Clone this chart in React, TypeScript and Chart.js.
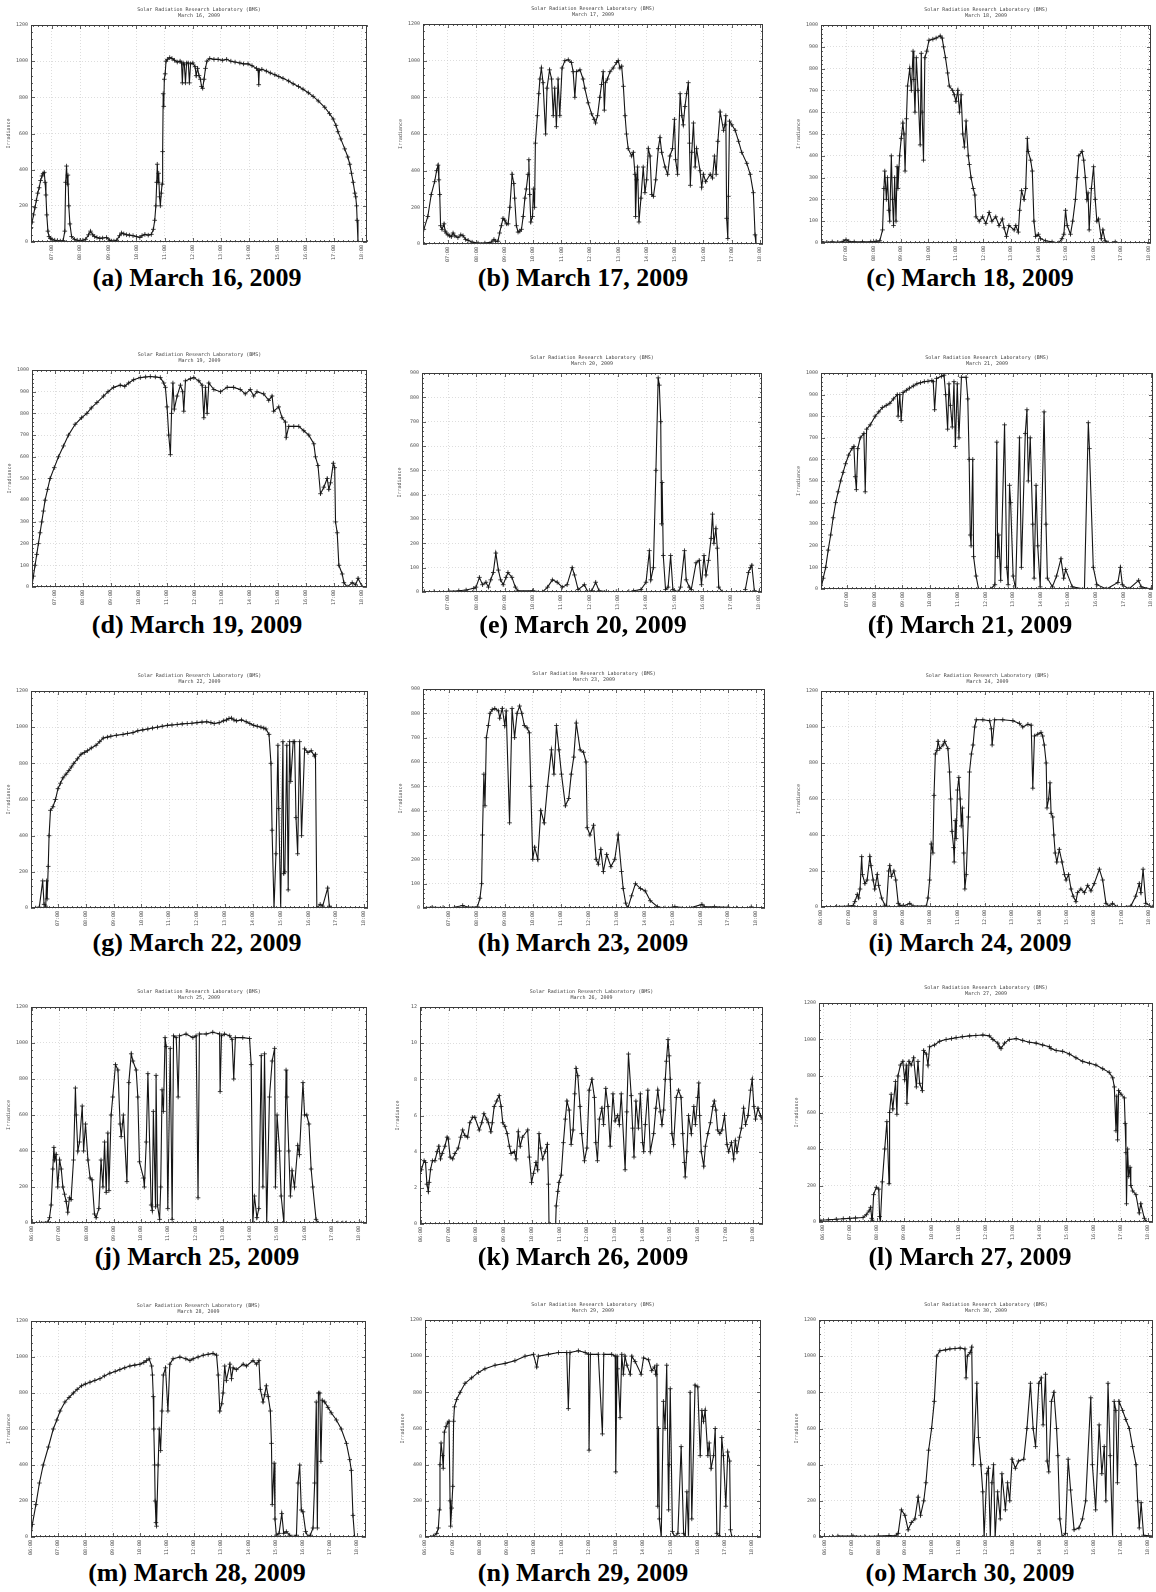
import React, { useEffect, useRef } from 'react';
import { Chart, registerables } from 'chart.js';
Chart.register(...registerables);

type Pt = [number, number | null];

// ---------------- data (hour of day, irradiance) ----------------
const mar16: Pt[] = [[6.26,80],[6.3,110],[6.35,150],[6.4,190],[6.45,230],[6.5,270],[6.55,300],[6.6,340],[6.65,365],[6.69,378],[6.73,385],[6.76,330],[6.79,260],[6.82,150],[6.86,60],[6.9,30],[6.95,20],[7.0,15],[7.1,10],[7.2,8],[7.3,5],[7.4,8],[7.46,60],[7.49,330],[7.52,420],[7.55,320],[7.57,370],[7.6,200],[7.64,100],[7.7,30],[7.8,15],[7.9,10],[8.0,8],[8.1,10],[8.2,15],[8.3,40],[8.37,60],[8.45,40],[8.52,30],[8.6,25],[8.7,20],[8.8,22],[8.94,25],[9.05,10],[9.12,5],[9.2,5],[9.3,10],[9.4,35],[9.47,50],[9.55,45],[9.65,40],[9.75,38],[9.88,35],[10.0,30],[10.12,25],[10.2,35],[10.3,42],[10.42,38],[10.53,42],[10.6,70],[10.65,120],[10.69,200],[10.72,330],[10.74,430],[10.77,330],[10.79,380],[10.82,250],[10.85,200],[10.88,270],[10.91,320],[10.93,500],[10.95,820],[10.97,750],[10.99,900],[11.02,930],[11.05,1000],[11.1,1010],[11.18,1020],[11.26,1015],[11.35,1005],[11.45,995],[11.55,1000],[11.6,990],[11.63,880],[11.66,990],[11.7,980],[11.74,880],[11.78,990],[11.84,990],[11.88,880],[11.92,985],[12.0,990],[12.08,970],[12.12,920],[12.17,960],[12.22,920],[12.27,900],[12.31,860],[12.35,850],[12.4,900],[12.45,960],[12.5,1000],[12.6,1015],[12.75,1010],[12.9,1010],[13.05,1005],[13.2,1010],[13.35,1000],[13.5,995],[13.67,990],[13.8,985],[13.96,985],[14.1,975],[14.26,960],[14.32,950],[14.34,870],[14.36,950],[14.45,955],[14.61,945],[14.75,935],[14.91,925],[15.05,915],[15.2,905],[15.4,890],[15.56,875],[15.75,860],[15.91,845],[16.1,825],[16.27,805],[16.45,780],[16.68,745],[16.85,710],[16.98,680],[17.08,645],[17.15,610],[17.25,570],[17.39,515],[17.5,470],[17.57,430],[17.63,380],[17.69,330],[17.75,270],[17.78,250],[17.81,200],[17.83,120],[17.86,0]];

const mar17: Pt[] = [[6.15,80],[6.29,150],[6.41,270],[6.53,340],[6.6,400],[6.65,430],[6.68,350],[6.71,270],[6.74,100],[6.79,80],[6.86,110],[6.9,70],[6.94,60],[7.0,50],[7.06,45],[7.12,40],[7.18,60],[7.24,45],[7.35,35],[7.45,50],[7.53,45],[7.62,25],[7.71,20],[7.85,10],[8.06,5],[8.3,5],[8.53,10],[8.62,25],[8.68,15],[8.76,15],[8.82,60],[8.88,100],[8.94,140],[9.0,130],[9.06,110],[9.12,110],[9.18,200],[9.26,380],[9.32,330],[9.35,250],[9.41,100],[9.47,65],[9.53,70],[9.59,80],[9.65,150],[9.71,250],[9.76,300],[9.82,380],[9.85,460],[9.88,270],[9.92,120],[9.98,150],[10.01,300],[10.05,200],[10.08,550],[10.15,700],[10.2,820],[10.24,900],[10.29,960],[10.35,880],[10.44,600],[10.49,850],[10.58,950],[10.65,900],[10.71,700],[10.76,850],[10.82,640],[10.88,900],[10.94,700],[11.02,960],[11.12,1000],[11.24,1005],[11.35,990],[11.41,940],[11.47,800],[11.53,940],[11.65,950],[11.76,900],[11.82,850],[11.94,770],[12.06,710],[12.15,680],[12.2,660],[12.27,700],[12.35,800],[12.41,870],[12.47,940],[12.51,730],[12.55,880],[12.62,900],[12.71,940],[12.82,960],[12.94,990],[13.0,1000],[13.06,960],[13.12,970],[13.18,860],[13.24,700],[13.29,600],[13.35,520],[13.47,480],[13.53,500],[13.59,380],[13.61,150],[13.65,350],[13.68,420],[13.73,120],[13.8,250],[13.88,420],[13.94,280],[14.0,350],[14.06,520],[14.12,480],[14.18,270],[14.24,260],[14.32,350],[14.41,520],[14.47,580],[14.53,500],[14.65,420],[14.74,380],[14.82,480],[14.91,520],[14.98,680],[15.02,460],[15.09,380],[15.18,820],[15.24,700],[15.29,650],[15.35,750],[15.41,820],[15.47,880],[15.51,550],[15.54,320],[15.59,500],[15.65,660],[15.71,420],[15.76,520],[15.88,400],[15.94,310],[16.0,380],[16.08,340],[16.24,380],[16.32,360],[16.39,480],[16.45,380],[16.51,560],[16.59,720],[16.71,620],[16.76,650],[16.79,700],[16.82,140],[16.86,30],[16.88,260],[16.92,670],[17.0,650],[17.12,620],[17.24,560],[17.35,500],[17.53,440],[17.65,380],[17.76,280],[17.82,50],[17.85,0]];

const mar18: Pt[] = [[6.12,5],[6.3,3],[6.5,5],[6.7,3],[6.9,8],[7.0,15],[7.1,8],[7.3,5],[7.6,5],[7.9,5],[8.1,8],[8.23,10],[8.33,60],[8.38,250],[8.41,330],[8.47,200],[8.51,300],[8.56,150],[8.59,100],[8.65,400],[8.69,200],[8.73,80],[8.77,300],[8.82,100],[8.86,350],[8.89,250],[8.95,400],[9.01,480],[9.07,550],[9.11,500],[9.15,330],[9.2,570],[9.24,720],[9.32,800],[9.38,700],[9.44,880],[9.47,750],[9.51,600],[9.56,850],[9.62,700],[9.7,450],[9.74,870],[9.77,600],[9.82,380],[9.87,850],[9.94,880],[10.02,930],[10.16,935],[10.28,940],[10.43,950],[10.5,940],[10.55,900],[10.62,850],[10.7,780],[10.76,720],[10.88,700],[10.94,680],[11.0,650],[11.07,700],[11.13,600],[11.19,680],[11.25,500],[11.31,440],[11.37,560],[11.45,400],[11.49,360],[11.55,300],[11.63,250],[11.69,220],[11.73,120],[11.85,100],[11.97,120],[12.09,90],[12.21,140],[12.31,100],[12.45,120],[12.57,80],[12.69,110],[12.75,70],[12.84,30],[12.93,80],[13.12,60],[13.18,80],[13.27,50],[13.32,150],[13.39,240],[13.48,200],[13.54,250],[13.6,480],[13.63,420],[13.72,380],[13.78,330],[13.84,100],[13.9,30],[14.0,40],[14.08,20],[14.26,10],[14.5,5],[14.74,0],[14.86,20],[14.93,40],[14.99,150],[15.05,80],[15.17,40],[15.25,100],[15.35,200],[15.41,300],[15.47,400],[15.59,420],[15.65,380],[15.71,300],[15.77,200],[15.81,230],[15.85,60],[15.93,250],[16.01,350],[16.07,200],[16.13,100],[16.19,110],[16.29,20],[16.35,60],[16.43,10],[16.55,0],[16.8,5]];

const mar19: Pt[] = [[6.16,0],[6.22,50],[6.28,100],[6.34,150],[6.4,200],[6.46,250],[6.52,300],[6.58,350],[6.64,400],[6.73,450],[6.82,500],[6.97,550],[7.12,600],[7.3,650],[7.48,700],[7.72,750],[7.95,780],[8.14,800],[8.3,825],[8.5,850],[8.74,880],[8.9,900],[9.1,920],[9.34,930],[9.5,925],[9.64,940],[9.82,955],[10.06,965],[10.25,968],[10.42,970],[10.6,968],[10.78,965],[10.9,940],[10.96,920],[11.02,830],[11.08,700],[11.14,610],[11.18,800],[11.23,940],[11.28,820],[11.38,880],[11.5,930],[11.58,900],[11.62,810],[11.68,950],[11.86,960],[11.98,965],[12.16,950],[12.28,930],[12.34,780],[12.4,920],[12.46,800],[12.52,940],[12.7,910],[12.94,900],[13.18,920],[13.41,920],[13.65,910],[13.83,890],[14.01,910],[14.13,880],[14.25,900],[14.49,890],[14.67,860],[14.79,880],[14.85,810],[15.03,830],[15.15,780],[15.27,760],[15.3,690],[15.39,740],[15.57,740],[15.75,740],[15.93,720],[16.11,700],[16.29,660],[16.35,600],[16.44,560],[16.53,430],[16.65,460],[16.77,500],[16.83,450],[16.89,480],[16.99,570],[17.04,550],[17.07,300],[17.13,250],[17.19,100],[17.31,60],[17.37,20],[17.49,0],[17.67,20],[17.79,10],[17.88,40],[18.03,0]];

const mar20: Pt[] = [[6.16,2],[6.51,2],[7.03,3],[7.38,5],[7.64,8],[7.91,15],[7.99,20],[8.11,60],[8.22,30],[8.34,40],[8.43,20],[8.51,50],[8.6,80],[8.69,160],[8.78,90],[8.86,50],[8.95,30],[9.05,60],[9.12,80],[9.26,60],[9.38,20],[9.47,5],[9.99,5],[10.34,0],[10.52,20],[10.69,50],[10.86,40],[11.04,20],[11.21,30],[11.39,100],[11.47,70],[11.6,10],[11.82,30],[11.94,0],[12.08,5],[12.22,40],[12.34,5],[12.6,2],[12.95,2],[13.39,2],[13.47,null],[13.56,5],[13.82,10],[14.0,40],[14.12,170],[14.17,50],[14.26,100],[14.35,500],[14.43,880],[14.47,850],[14.52,700],[14.55,280],[14.57,450],[14.61,150],[14.69,10],[14.78,20],[14.87,150],[14.95,10],[15.13,0],[15.22,20],[15.36,170],[15.42,50],[15.53,20],[15.6,10],[15.77,120],[15.88,130],[15.96,30],[16.05,150],[16.12,70],[16.21,130],[16.3,220],[16.35,320],[16.4,200],[16.47,260],[16.52,180],[16.57,20],[16.7,0],[16.75,null],[17.51,10],[17.62,80],[17.69,100],[17.74,110],[17.83,5],[18.0,0]];

const mar21: Pt[] = [[6.06,0],[6.14,50],[6.23,100],[6.32,180],[6.41,250],[6.5,330],[6.59,400],[6.68,450],[6.77,500],[6.86,540],[6.95,580],[7.06,620],[7.18,650],[7.25,660],[7.3,520],[7.34,460],[7.39,650],[7.48,700],[7.61,720],[7.66,450],[7.71,740],[7.84,760],[8.02,800],[8.15,820],[8.28,840],[8.42,850],[8.55,860],[8.68,880],[8.82,900],[8.85,800],[8.91,900],[8.96,780],[9.03,910],[9.15,920],[9.26,930],[9.4,940],[9.53,950],[9.66,955],[9.8,960],[9.93,962],[10.07,965],[10.12,960],[10.17,830],[10.24,975],[10.42,985],[10.51,990],[10.57,900],[10.64,740],[10.69,950],[10.74,850],[10.81,750],[10.87,960],[10.92,660],[10.99,950],[11.05,700],[11.14,980],[11.31,980],[11.37,880],[11.42,600],[11.46,250],[11.49,200],[11.55,600],[11.58,150],[11.67,60],[11.76,0],[12.2,0],[12.35,20],[12.42,680],[12.45,150],[12.49,250],[12.56,40],[12.7,760],[12.78,100],[12.83,20],[12.88,480],[12.92,400],[13.01,60],[13.1,0],[13.24,700],[13.31,100],[13.45,720],[13.51,830],[13.56,500],[13.63,700],[13.72,300],[13.77,50],[13.84,480],[13.9,200],[13.99,10],[14.13,820],[14.2,300],[14.25,50],[14.43,10],[14.58,60],[14.74,140],[14.84,50],[14.91,90],[15.15,10],[15.59,0],[15.73,770],[15.77,650],[15.91,100],[16.04,20],[16.39,0],[16.8,30],[16.89,100],[16.96,20],[17.2,0],[17.55,40],[17.64,10],[18.0,0]];

const mar22: Pt[] = [[6.01,0],[6.2,0],[6.33,5],[6.45,150],[6.5,20],[6.56,10],[6.59,150],[6.61,50],[6.65,230],[6.68,400],[6.73,540],[6.82,560],[6.91,600],[7.0,660],[7.09,690],[7.18,720],[7.29,740],[7.39,760],[7.48,780],[7.57,800],[7.7,825],[7.83,850],[7.95,860],[8.06,870],[8.2,885],[8.37,900],[8.5,920],[8.63,940],[8.78,945],[8.9,950],[9.1,955],[9.34,960],[9.5,965],[9.7,970],[9.87,980],[10.05,985],[10.23,990],[10.4,995],[10.58,1000],[10.75,1005],[10.94,1010],[11.1,1012],[11.29,1015],[11.47,1018],[11.65,1020],[11.82,1022],[12.0,1025],[12.18,1028],[12.35,1030],[12.5,1025],[12.62,1020],[12.8,1025],[12.95,1035],[13.06,1040],[13.15,1048],[13.24,1050],[13.33,1040],[13.42,1035],[13.6,1040],[13.77,1030],[13.9,1020],[14.04,1010],[14.17,1005],[14.3,1000],[14.4,995],[14.48,990],[14.59,960],[14.66,800],[14.7,430],[14.77,0],[14.84,300],[14.91,900],[14.94,550],[15.01,0],[15.09,920],[15.12,190],[15.16,200],[15.23,900],[15.28,100],[15.33,920],[15.37,700],[15.46,920],[15.51,920],[15.56,500],[15.62,300],[15.69,920],[15.76,400],[15.87,880],[15.99,860],[16.11,870],[16.22,840],[16.26,850],[16.31,0],[16.43,20],[16.52,10],[16.7,110],[16.76,10],[16.82,0]];

const mar23: Pt[] = [[6.08,2],[6.4,3],[6.79,2],[7.2,3],[7.49,10],[7.7,3],[8.02,5],[8.11,40],[8.17,100],[8.2,300],[8.25,550],[8.29,420],[8.34,700],[8.41,750],[8.47,800],[8.55,815],[8.64,820],[8.77,810],[8.82,780],[8.91,820],[9.0,750],[9.05,810],[9.17,350],[9.26,820],[9.35,700],[9.44,800],[9.53,830],[9.61,800],[9.7,750],[9.8,740],[9.88,720],[9.93,500],[10.0,200],[10.07,250],[10.18,200],[10.29,400],[10.41,350],[10.53,500],[10.67,650],[10.76,550],[10.85,750],[10.94,650],[11.03,550],[11.17,420],[11.29,450],[11.38,550],[11.47,620],[11.56,760],[11.7,650],[11.82,640],[11.91,600],[11.95,330],[12.05,300],[12.18,340],[12.27,200],[12.35,180],[12.44,240],[12.53,150],[12.65,220],[12.8,170],[12.94,200],[13.06,300],[13.18,150],[13.24,80],[13.33,20],[13.41,0],[13.54,50],[13.68,100],[13.86,80],[14.03,70],[14.21,30],[14.47,5],[14.74,0],[15.09,5],[15.62,0],[16.06,15],[16.15,5],[16.51,5],[17.0,3],[17.3,0],[17.4,null],[17.83,5]];

const mar24: Pt[] = [[6.0,0],[6.57,3],[7.0,5],[7.18,8],[7.24,30],[7.33,70],[7.38,50],[7.43,100],[7.49,280],[7.52,180],[7.61,130],[7.69,150],[7.79,280],[7.83,230],[7.91,150],[7.97,100],[8.06,180],[8.11,120],[8.22,50],[8.34,10],[8.4,5],[8.48,200],[8.52,230],[8.58,170],[8.67,200],[8.74,150],[8.83,20],[8.89,10],[9.01,5],[9.25,20],[9.37,5],[9.86,5],[9.92,50],[9.98,150],[10.04,350],[10.1,300],[10.14,620],[10.19,850],[10.25,870],[10.29,920],[10.35,880],[10.47,900],[10.53,920],[10.65,880],[10.71,750],[10.75,600],[10.8,420],[10.86,330],[10.88,250],[10.92,480],[10.95,380],[11.0,650],[11.05,720],[11.1,600],[11.14,450],[11.18,550],[11.23,300],[11.27,100],[11.32,180],[11.4,500],[11.44,750],[11.51,850],[11.57,900],[11.63,1000],[11.69,1040],[11.93,1040],[12.18,1035],[12.24,990],[12.27,900],[12.36,1040],[12.66,1040],[13.03,1035],[13.27,1020],[13.39,1000],[13.58,1015],[13.7,1010],[13.76,660],[13.82,950],[13.94,960],[14.06,970],[14.12,950],[14.18,900],[14.25,800],[14.28,550],[14.34,600],[14.39,690],[14.43,520],[14.49,500],[14.53,400],[14.58,300],[14.64,250],[14.73,320],[14.83,250],[14.92,180],[14.98,150],[15.07,180],[15.16,100],[15.24,60],[15.34,30],[15.4,80],[15.52,100],[15.65,80],[15.77,120],[15.89,90],[16.01,130],[16.2,210],[16.32,150],[16.44,20],[16.56,5],[16.68,20],[16.86,0],[17.35,5],[17.53,60],[17.66,130],[17.72,80],[17.8,210],[17.9,20],[18.14,0]];

const mar25: Pt[] = [[5.95,0],[6.28,2],[6.59,5],[6.65,30],[6.71,100],[6.77,300],[6.81,420],[6.84,350],[6.89,380],[6.95,200],[7.02,350],[7.08,300],[7.14,200],[7.2,160],[7.26,120],[7.32,60],[7.38,140],[7.44,130],[7.53,350],[7.6,750],[7.63,600],[7.69,400],[7.75,450],[7.85,650],[7.9,400],[7.97,550],[8.06,350],[8.14,250],[8.21,240],[8.3,50],[8.36,30],[8.46,80],[8.54,350],[8.61,200],[8.67,450],[8.73,170],[8.79,500],[8.83,180],[8.91,600],[8.97,700],[9.07,880],[9.16,850],[9.24,550],[9.28,480],[9.36,600],[9.49,230],[9.56,780],[9.65,940],[9.71,900],[9.83,850],[9.89,700],[9.95,340],[10.1,250],[10.13,200],[10.2,450],[10.26,830],[10.38,100],[10.42,70],[10.46,620],[10.54,90],[10.56,820],[10.61,100],[10.69,20],[10.73,200],[10.78,740],[10.83,620],[10.89,1030],[10.93,980],[10.99,80],[11.08,970],[11.15,20],[11.2,1040],[11.3,1030],[11.37,700],[11.42,1040],[11.66,1050],[11.91,1030],[12.03,1040],[12.1,140],[12.15,1050],[12.4,1050],[12.64,1060],[12.89,1050],[12.91,730],[12.96,1040],[13.07,1050],[13.26,1040],[13.35,1020],[13.41,800],[13.47,1030],[13.74,1030],[13.99,1025],[14.05,880],[14.11,0],[14.17,150],[14.26,30],[14.33,80],[14.42,930],[14.48,200],[14.54,940],[14.62,0],[14.72,700],[14.82,900],[14.91,970],[14.94,200],[15.0,600],[15.09,400],[15.15,150],[15.25,0],[15.33,850],[15.36,700],[15.43,400],[15.49,150],[15.55,290],[15.64,200],[15.76,430],[15.82,380],[15.95,780],[16.01,600],[16.09,600],[16.17,550],[16.25,300],[16.31,200],[16.43,20],[16.5,0],[16.55,null],[17.23,0],[17.41,0],[17.45,null],[17.54,0],[18.09,0]];

const mar26: Pt[] = [[5.96,2.8],[6.02,3.0],[6.12,3.5],[6.17,3.4],[6.22,2.2],[6.27,1.8],[6.3,2.3],[6.35,3.0],[6.42,3.5],[6.51,3.5],[6.59,4.0],[6.65,4.3],[6.71,3.6],[6.77,3.9],[6.87,4.3],[6.95,4.8],[6.99,4.7],[7.06,3.7],[7.15,3.6],[7.23,3.9],[7.35,4.2],[7.44,4.8],[7.51,5.2],[7.59,4.9],[7.69,4.8],[7.77,5.6],[7.87,5.9],[7.95,5.9],[8.11,5.2],[8.2,5.6],[8.28,6.1],[8.38,5.8],[8.44,5.6],[8.53,5.1],[8.58,5.6],[8.65,6.5],[8.74,6.8],[8.83,7.1],[8.9,6.5],[8.96,5.6],[9.04,5.4],[9.12,5.0],[9.2,4.3],[9.26,3.9],[9.38,4.0],[9.44,3.6],[9.52,5.1],[9.59,4.3],[9.67,4.8],[9.86,5.2],[9.92,3.7],[10.0,2.3],[10.07,2.8],[10.16,3.4],[10.22,3.0],[10.27,5.0],[10.33,4.2],[10.4,3.6],[10.49,4.0],[10.57,4.4],[10.61,2.2],[10.63,0],[10.75,null],[10.87,0],[10.89,1.0],[10.95,1.8],[10.99,2.3],[11.07,2.7],[11.15,4.5],[11.22,5.8],[11.28,6.8],[11.36,6.3],[11.43,4.4],[11.5,5.2],[11.56,7.2],[11.61,8.6],[11.67,8.2],[11.75,6.5],[11.81,5.0],[11.91,3.5],[12.0,4.2],[12.08,7.4],[12.18,8.0],[12.27,7.0],[12.32,4.5],[12.38,3.5],[12.45,5.8],[12.54,6.4],[12.6,5.5],[12.68,7.5],[12.76,6.5],[12.84,4.3],[12.94,7.2],[13.02,5.7],[13.11,6.0],[13.17,5.5],[13.24,7.2],[13.38,3.0],[13.44,6.2],[13.5,9.4],[13.6,7.1],[13.65,5.3],[13.7,3.7],[13.77,6.8],[13.86,5.3],[13.93,7.2],[14.01,4.5],[14.05,4.0],[14.11,5.5],[14.2,7.4],[14.29,4.0],[14.41,5.0],[14.49,6.4],[14.56,7.4],[14.65,6.2],[14.71,5.5],[14.77,6.3],[14.83,8.0],[14.87,9.0],[14.93,10.2],[14.97,9.3],[15.01,8.0],[15.07,5.0],[15.13,4.4],[15.23,7.0],[15.31,7.4],[15.4,7.0],[15.46,5.0],[15.52,3.4],[15.55,2.6],[15.61,4.0],[15.67,6.0],[15.77,5.0],[15.86,6.5],[15.92,5.5],[16.0,7.0],[16.04,7.8],[16.07,6.0],[16.13,4.0],[16.22,3.2],[16.28,4.3],[16.37,5.0],[16.46,5.6],[16.55,6.5],[16.6,6.8],[16.66,6.3],[16.72,5.2],[16.8,5.0],[16.88,5.2],[16.97,6.0],[17.06,4.4],[17.12,4.0],[17.22,4.5],[17.3,3.6],[17.36,4.6],[17.42,4.0],[17.51,4.8],[17.58,5.3],[17.66,6.4],[17.73,5.5],[17.82,6.0],[17.91,7.4],[17.97,8.0],[18.03,6.5],[18.09,5.8],[18.18,6.4],[18.27,6.0],[18.33,5.8]];

const mar27: Pt[] = [[5.88,10],[6.2,12],[6.49,15],[6.75,18],[6.98,20],[7.2,22],[7.48,25],[7.6,40],[7.7,60],[7.76,80],[7.8,20],[7.82,10],[7.87,150],[7.97,190],[8.06,180],[8.09,30],[8.12,0],[8.19,220],[8.28,400],[8.36,550],[8.44,210],[8.46,600],[8.52,700],[8.58,620],[8.68,770],[8.73,590],[8.77,800],[8.86,860],[8.95,880],[9.02,780],[9.08,860],[9.1,650],[9.18,880],[9.26,860],[9.35,900],[9.45,740],[9.51,880],[9.57,760],[9.67,720],[9.72,940],[9.82,920],[9.88,860],[9.94,960],[10.12,970],[10.31,990],[10.55,1000],[10.75,1005],[10.92,1010],[11.15,1015],[11.42,1020],[11.65,1022],[11.91,1025],[12.15,1020],[12.28,1000],[12.46,980],[12.52,960],[12.58,950],[12.71,980],[12.89,1000],[13.14,1005],[13.38,995],[13.63,985],[13.88,980],[14.12,970],[14.37,960],[14.43,950],[14.62,940],[14.86,935],[15.11,920],[15.35,900],[15.6,880],[15.85,870],[16.09,860],[16.34,840],[16.58,820],[16.71,790],[16.77,740],[16.83,500],[16.86,690],[16.89,450],[16.93,720],[17.02,700],[17.14,680],[17.17,540],[17.2,380],[17.22,100],[17.26,400],[17.3,250],[17.35,300],[17.38,200],[17.45,170],[17.57,150],[17.69,50],[17.75,100],[17.88,20],[17.96,0]];

const mar28: Pt[] = [[6.0,0],[6.05,70],[6.18,180],[6.31,300],[6.45,400],[6.64,500],[6.82,600],[6.95,650],[7.07,700],[7.25,750],[7.4,775],[7.56,800],[7.7,820],[7.86,840],[8.0,850],[8.17,860],[8.35,870],[8.54,880],[8.7,895],[8.9,910],[9.1,920],[9.27,930],[9.45,940],[9.64,950],[9.82,955],[10.01,960],[10.15,970],[10.25,980],[10.35,990],[10.44,950],[10.47,900],[10.5,780],[10.52,600],[10.55,400],[10.57,200],[10.6,80],[10.62,60],[10.68,400],[10.72,600],[10.77,480],[10.82,700],[10.87,900],[10.95,940],[11.04,700],[11.11,960],[11.23,990],[11.48,1000],[11.7,990],[11.85,980],[11.97,990],[12.15,1000],[12.34,1010],[12.52,1015],[12.7,1020],[12.83,1010],[12.89,900],[12.95,700],[13.02,740],[13.07,800],[13.13,950],[13.19,870],[13.32,960],[13.38,880],[13.44,940],[13.56,930],[13.81,960],[13.93,950],[14.17,980],[14.3,960],[14.39,980],[14.44,820],[14.54,750],[14.6,790],[14.66,840],[14.73,780],[14.81,700],[14.85,520],[14.88,180],[14.95,410],[14.98,100],[15.03,10],[15.13,20],[15.23,130],[15.3,20],[15.4,30],[15.52,10],[15.64,0],[15.77,10],[15.83,300],[15.89,400],[15.95,150],[16.01,140],[16.11,30],[16.2,0],[16.28,10],[16.38,50],[16.44,300],[16.5,750],[16.54,50],[16.58,800],[16.63,800],[16.67,420],[16.72,760],[16.81,750],[16.93,720],[17.05,690],[17.24,650],[17.42,600],[17.61,520],[17.73,430],[17.79,370],[17.85,120],[17.91,0]];

const mar29: Pt[] = [[6.0,0],[6.31,5],[6.43,20],[6.49,50],[6.53,150],[6.55,400],[6.59,520],[6.64,450],[6.67,380],[6.71,580],[6.77,610],[6.83,630],[6.88,640],[6.92,200],[6.94,60],[6.98,160],[7.02,280],[7.05,640],[7.08,720],[7.16,760],[7.29,800],[7.47,850],[7.71,880],[7.96,910],[8.2,930],[8.57,950],[8.94,960],[9.3,975],[9.67,1000],[9.98,1010],[10.1,940],[10.16,1000],[10.53,1010],[10.9,1020],[11.2,1020],[11.26,710],[11.32,1020],[11.63,1030],[11.88,1020],[12.0,1010],[12.02,480],[12.07,1010],[12.36,1010],[12.51,570],[12.56,1010],[12.85,1010],[12.98,1000],[13.0,360],[13.05,1000],[13.07,930],[13.16,660],[13.22,1010],[13.28,900],[13.34,1000],[13.41,950],[13.53,900],[13.59,1000],[13.71,970],[13.93,900],[14.02,990],[14.2,980],[14.32,920],[14.42,940],[14.47,900],[14.51,950],[14.54,170],[14.57,600],[14.6,100],[14.67,0],[14.75,750],[14.81,600],[14.87,950],[14.94,150],[14.96,400],[15.0,820],[15.08,30],[15.16,0],[15.28,20],[15.4,500],[15.49,20],[15.55,0],[15.61,250],[15.67,0],[15.73,800],[15.79,100],[15.91,840],[16.01,830],[16.1,450],[16.16,700],[16.22,640],[16.28,700],[16.38,450],[16.43,520],[16.5,380],[16.59,450],[16.65,600],[16.71,20],[16.81,0],[16.89,550],[16.95,450],[17.04,170],[17.11,470],[17.18,420],[17.21,40],[17.26,0]];

const mar30: Pt[] = [[5.8,0],[6.0,2],[6.3,2],[6.35,null],[6.5,5],[7.06,5],[7.5,3],[8.0,5],[8.4,8],[8.67,10],[8.74,20],[8.86,150],[8.99,120],[9.11,40],[9.23,80],[9.36,100],[9.48,220],[9.57,120],[9.69,200],[9.77,300],[9.87,480],[9.98,600],[10.08,750],[10.17,1000],[10.29,1030],[10.5,1035],[10.66,1040],[10.85,1042],[11.04,1045],[11.22,1040],[11.26,880],[11.31,1000],[11.41,1020],[11.47,1050],[11.53,400],[11.66,850],[11.72,550],[11.81,400],[11.88,250],[11.93,0],[12.03,350],[12.09,380],[12.16,0],[12.22,300],[12.28,400],[12.34,0],[12.43,250],[12.53,100],[12.59,350],[12.72,150],[12.8,300],[12.88,200],[12.97,430],[13.09,380],[13.21,420],[13.4,430],[13.52,600],[13.65,850],[13.75,600],[13.84,500],[13.96,850],[14.05,880],[14.12,620],[14.21,900],[14.27,420],[14.33,360],[14.43,750],[14.52,800],[14.62,600],[14.67,450],[14.74,100],[14.83,0],[14.95,20],[15.05,430],[15.14,260],[15.27,40],[15.45,50],[15.58,100],[15.7,200],[15.89,770],[15.95,400],[16.07,150],[16.2,620],[16.3,350],[16.39,500],[16.45,200],[16.53,850],[16.61,450],[16.7,0],[16.76,750],[16.82,700],[16.88,300],[16.94,750],[17.07,700],[17.19,650],[17.32,600],[17.44,500],[17.57,400],[17.63,200],[17.69,50],[17.76,190],[17.85,10],[18.25,5]];

const series: Pt[][] = [mar16, mar17, mar18, mar19, mar20, mar21, mar22, mar23, mar24, mar25, mar26, mar27, mar28, mar29, mar30];
const dateTitles = ['March 16, 2009','March 17, 2009','March 18, 2009','March 19, 2009','March 20, 2009','March 21, 2009','March 22, 2009','March 23, 2009','March 24, 2009','March 25, 2009','March 26, 2009','March 27, 2009','March 28, 2009','March 29, 2009','March 30, 2009'];
const captionLetters = ['a','b','c','d','e','f','g','h','i','j','k','l','m','n','o'];
const yMaxes = [1200,1200,1000,1000,900,1000,1200,900,1200,1200,12,1200,1200,1200,1200];
const ySteps = [200,200,100,100,100,100,200,100,200,200,2,200,200,200,200];
const hourTicks = [6,7,8,9,10,11,12,13,14,15,16,17,18];
const chartTitle = 'Solar Radiation Research Laboratory (BMS)';
const yAxisTitle = 'Irradiance';

// ---------------- layout (plot boxes in page pixels, x ranges) ----------------
const boxes = [
  [31,25,367,242],[423,24,763,244],[821,25,1151,243],
  [32,370,367,587],[422,373,762,592],[821,373,1153,589],
  [31,691,368,908],[423,689,765,908],[821,691,1154,907],
  [31,1007,367,1223],[420,1007,763,1224],[819,1003,1153,1222],
  [31,1321,366,1537],[425,1320,761,1537],[819,1320,1153,1537],
];
const xRanges = [
  [6.26,18.18],[6.12,18.1],[6.09,18.1],
  [6.17,18.2],[6.08,18.1],[6.06,18.07],
  [6.03,18.15],[6.07,18.32],[6.0,18.2],
  [5.97,18.3],[5.97,18.36],[5.85,18.2],
  [6.0,18.33],[6.0,18.33],[5.8,18.2],
];
const captionCols = [197, 583, 970];
const captionRows = [278, 625, 943, 1257, 1573];

const framePlugin = {
  id: 'frame',
  afterDraw(chart: any, _args: any, opts: any) {
    const { ctx, chartArea } = chart;
    const { left, top, right, bottom } = chartArea;
    const xs = chart.scales.x;
    const ys = chart.scales.y;
    ctx.save();
    ctx.strokeStyle = '#3a3a3a';
    ctx.lineWidth = 1;
    ctx.strokeRect(left + 0.5, top + 0.5, right - left - 1, bottom - top - 1);
    ctx.lineWidth = 0.8;
    const line = (x1: number, y1: number, x2: number, y2: number) => {
      ctx.beginPath(); ctx.moveTo(x1, y1); ctx.lineTo(x2, y2); ctx.stroke();
    };
    for (let m = Math.ceil(xs.min * 6); m <= xs.max * 6; m++) {
      const px = Math.round(xs.getPixelForValue(m / 6)) + 0.5;
      const len = m % 6 === 0 ? 4 : 2;
      line(px, bottom, px, bottom - len);
      line(px, top, px, top + len);
    }
    const st = opts.step / 5;
    for (let k = 0; k * st <= ys.max + 1e-9; k++) {
      const py = Math.round(ys.getPixelForValue(k * st)) + 0.5;
      const len = k % 5 === 0 ? 4 : 2;
      line(left, py, left + len, py);
      line(right, py, right - len, py);
    }
    ctx.fillStyle = '#444';
    ctx.font = '5px "DejaVu Sans Mono"';
    ctx.textAlign = 'center';
    ctx.textBaseline = 'middle';
    const cx = (left + right) / 2;
    ctx.fillText(chartTitle, cx, top - 15);
    ctx.fillText(opts.date, cx, top - 9);
    ctx.restore();
  },
};

function Panel({ idx }: { idx: number }) {
  const ref = useRef<HTMLCanvasElement>(null);
  const [L, T, R, B] = boxes[idx];
  const w = R - L + 38;
  const h = B - T + 38;
  useEffect(() => {
    const [xMin, xMax] = xRanges[idx];
    const tickFont = { size: 5, family: 'DejaVu Sans Mono' };
    const chart = new Chart(ref.current as HTMLCanvasElement, {
      type: 'line',
      data: {
        datasets: [{
          data: series[idx].map(([x, y]) => ({ x, y })) as any,
          borderColor: '#151515',
          borderWidth: 1.1,
          pointStyle: 'cross',
          pointRadius: 2.3,
          pointBorderWidth: 0.8,
          pointBorderColor: '#151515',
          pointBackgroundColor: '#151515',
          spanGaps: false,
          tension: 0,
        }],
      },
      options: {
        responsive: false,
        animation: false,
        events: [],
        layout: { padding: { top: 20, right: 8, left: 0, bottom: 0 } },
        plugins: {
          legend: { display: false },
          tooltip: { enabled: false },
          frame: { date: dateTitles[idx], step: ySteps[idx] },
        } as any,
        scales: {
          x: {
            type: 'linear',
            min: xMin,
            max: xMax,
            afterBuildTicks: (s: any) => {
              s.ticks = hourTicks.filter((v) => v >= xMin && v <= xMax).map((v) => ({ value: v }));
            },
            afterFit: (s: any) => { s.height = 18; },
            ticks: {
              autoSkip: false,
              minRotation: 90,
              maxRotation: 90,
              padding: 3,
              font: tickFont,
              color: '#555',
              callback: (v: any) => (Number(v) < 10 ? '0' : '') + v + ':00',
            },
            grid: { color: '#cfcfcf', lineWidth: 0.7, drawTicks: false },
            border: { display: false, dash: [1, 2] },
          },
          y: {
            min: 0,
            max: yMaxes[idx],
            afterFit: (s: any) => { s.width = 30; },
            ticks: {
              stepSize: ySteps[idx],
              padding: 3,
              font: tickFont,
              color: '#555',
              callback: (v: any) => String(v),
            },
            title: { display: true, text: yAxisTitle, font: tickFont, color: '#555', padding: { top: 5, bottom: 0 } },
            grid: { color: '#cfcfcf', lineWidth: 0.7, drawTicks: false },
            border: { display: false, dash: [1, 2] },
          },
        },
      } as any,
      plugins: [framePlugin],
    });
    return () => chart.destroy();
  }, [idx]);
  return (
    <canvas
      ref={ref}
      width={w}
      height={h}
      style={{ position: 'absolute', left: L - 30, top: T - 20, width: w, height: h }}
    />
  );
}

export default function App() {
  return (
    <div style={{ position: 'absolute', left: 0, top: 0, width: 1156, height: 1592, overflow: 'hidden', background: '#fff' }}>
      {series.map((_, i) => <Panel key={i} idx={i} />)}
      {series.map((_, i) => (
        <div
          key={'c' + i}
          style={{
            position: 'absolute',
            left: captionCols[i % 3] - 160,
            top: captionRows[Math.floor(i / 3)] - 16,
            width: 320,
            height: 32,
            lineHeight: '32px',
            textAlign: 'center',
            fontFamily: '"Liberation Serif", "Times New Roman", serif',
            fontWeight: 'bold',
            fontSize: 26,
            color: '#000',
            whiteSpace: 'nowrap',
          }}
        >
          {'(' + captionLetters[i] + ') ' + dateTitles[i]}
        </div>
      ))}
    </div>
  );
}
